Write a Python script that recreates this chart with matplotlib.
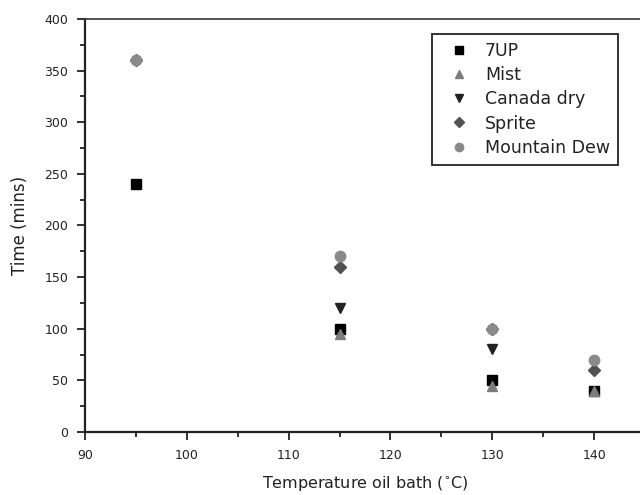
import matplotlib
matplotlib.use("Agg")
import matplotlib.pyplot as plt
from matplotlib.ticker import MultipleLocator

temps_7up = [95, 115, 130, 140]
time_7up = [240, 100, 50, 40]
temps_mist = [115, 130, 140]
time_mist = [95, 45, 40]
temps_canada = [115, 130]
time_canada = [120, 80]
temps_sprite = [95, 115, 130, 140]
time_sprite = [360, 160, 100, 60]
temps_dew = [95, 115, 130, 140]
time_dew = [360, 170, 100, 70]

series = [
    ("7UP", temps_7up, time_7up, "s", "#000000", 6.5),
    ("Mist", temps_mist, time_mist, "^", "#7c7c7c", 7),
    ("Canada dry", temps_canada, time_canada, "v", "#222222", 7.5),
    ("Sprite", temps_sprite, time_sprite, "D", "#515151", 6),
    ("Mountain Dew", temps_dew, time_dew, "o", "#8a8a8a", 7.5),
]

plt.rcParams['font.family'] = ['DejaVu Sans']
W, H = 640, 495
fig = plt.figure(figsize=(W / 100, H / 100), dpi=100)
ax = fig.add_axes([85 / W, 1 - 432 / H, (645 - 85) / W, (432 - 19) / H])

for name, xs, ys, m, c, ms in series:
    ax.plot(xs, ys, linestyle="none", marker=m, color=c, markersize=ms,
            markeredgecolor=c, label=name)

ax.set_xlim(90, 145)
ax.set_ylim(0, 400)
ax.xaxis.set_major_locator(MultipleLocator(10))
ax.xaxis.set_minor_locator(MultipleLocator(5))
ax.yaxis.set_major_locator(MultipleLocator(50))
ax.yaxis.set_minor_locator(MultipleLocator(25))
ax.tick_params(which="both", direction="out", width=1.3, labelsize=9, colors="#222222")
ax.tick_params(which="major", length=6, pad=6)
ax.tick_params(which="minor", length=3.5)
for s in ["left", "bottom", "top"]:
    ax.spines[s].set_linewidth(1.6)
    ax.spines[s].set_color("#222222")
ax.spines["top"].set_color("#444444")
ax.spines["top"].set_linewidth(1.3)

ax.set_xlabel("Temperature oil bath ($^{\\circ}$C)", fontsize=11.5, labelpad=9, color="#222222")
ax.set_ylabel("Time (mins)", fontsize=12, labelpad=11, color="#222222")

leg = ax.legend(loc="upper left", bbox_to_anchor=(432 / W, 1 - 34 / H),
                bbox_transform=fig.transFigure, borderaxespad=0,
                fontsize=12.5, frameon=True, fancybox=False, edgecolor="black",
                handletextpad=0.4, borderpad=0.45, labelspacing=0.36, handlelength=2.2,
                markerscale=0.8)
leg.get_frame().set_linewidth(1.4)
for t in leg.get_texts():
    t.set_color("#222222")

fig.savefig("out.png", dpi=100)
